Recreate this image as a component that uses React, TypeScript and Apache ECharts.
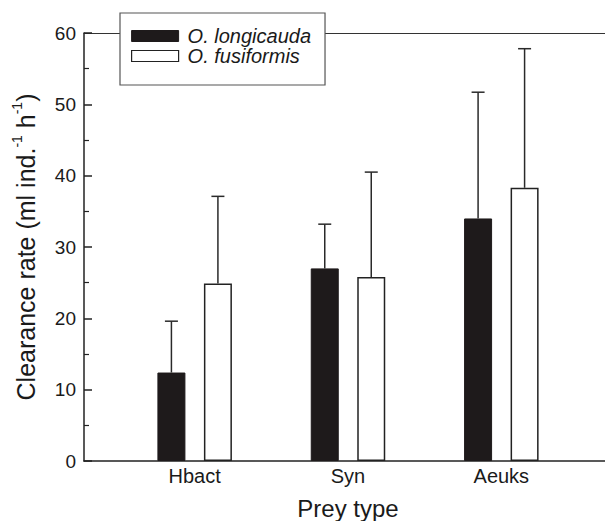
import React, { useEffect, useRef } from "react";
import * as echarts from "echarts";

const categories = ["Hbact", "Syn", "Aeuks"];
const seriesNames = ["O. longicauda", "O. fusiformis"];
const longicaudaMean = [12.4, 27.0, 34.0];
const longicaudaUpper = [19.6, 33.2, 51.7];
const fusiformisMean = [24.9, 25.8, 38.3];
const fusiformisUpper = [37.1, 40.5, 57.8];
const yTicks = { min: 0, max: 60, interval: 10 };

const FONT = "'Liberation Sans', Arial, Helvetica, sans-serif";
const BAR_W = 28;
const BAR_GAP = 18.5;

export default function App() {
  const ref = useRef<HTMLDivElement>(null);
  useEffect(() => {
    if (!ref.current) return;
    const chart = echarts.init(ref.current, null, { renderer: "svg" });
    const errSeries = (means: number[], uppers: number[], offset: number, name: string) => ({
      type: "custom",
      name: name + " err",
      xAxisIndex: 1,
      yAxisIndex: 1,
      z: 5,
      silent: true,
      data: means.map((m, i) => [i, uppers[i], m]),
      renderItem: (params: any, api: any) => {
        const idx = api.value(0);
        const hi = api.value(1);
        const mean = api.value(2);
        const base = api.coord([idx, mean]);
        const top = api.coord([idx, hi]);
        const x = base[0] + offset;
        const st = { stroke: "#2a2a2a", lineWidth: 1.5 };
        return {
          type: "group",
          children: [
            { type: "line", shape: { x1: x, y1: base[1], x2: x, y2: top[1] }, style: st },
            { type: "line", shape: { x1: x - 6.5, y1: top[1], x2: x + 6.5, y2: top[1] }, style: st },
          ],
        };
      },
    });
    const half = (BAR_W + BAR_GAP) / 2;
    chart.setOption({
      animation: false,
      backgroundColor: "#ffffff",
      textStyle: { fontFamily: FONT },
      grid: [
        { left: 84, right: -10, top: 33, bottom: 60, outerBoundsMode: "none", containLabel: false },
        { left: 118, right: 27, top: 33, bottom: 60, outerBoundsMode: "none", containLabel: false },
      ],
      legend: {
        left: 120,
        top: 13,
        orient: "vertical",
        z: 20,
        backgroundColor: "#ffffff",
        borderColor: "#555",
        borderWidth: 1.2,
        padding: [13, 14, 19, 11],
        itemWidth: 47,
        itemHeight: 11,
        itemGap: 0,
        textStyle: {
          fontFamily: FONT,
          fontSize: 20,
          fontStyle: "italic",
          color: "#1a1a1a",
          lineHeight: 20,
          padding: [0, 0, 0, 4],
        },
        data: [
          { name: seriesNames[0], icon: "rect", itemStyle: { color: "#1e1a1b", borderColor: "#1e1a1b", borderWidth: 1 } },
          { name: seriesNames[1], icon: "rect", itemStyle: { color: "#ffffff", borderColor: "#222", borderWidth: 1.2 } },
        ],
      },
      xAxis: [
        {
          gridIndex: 0,
          type: "value",
          min: 0,
          max: 1,
          axisLine: { show: true, lineStyle: { color: "#222", width: 1.5 } },
          axisTick: { show: false },
          axisLabel: { show: false },
          splitLine: { show: false },
        },
        {
          gridIndex: 1,
          type: "category",
          data: categories,
          axisLine: { show: false },
          axisTick: { show: false },
          axisLabel: { fontSize: 20, color: "#1a1a1a", margin: 5, fontFamily: FONT },
          name: "Prey type",
          nameLocation: "middle",
          nameGap: 35,
          nameTextStyle: { fontSize: 24, color: "#1a1a1a", fontFamily: FONT },
        },
        {
          gridIndex: 0,
          type: "value",
          position: "top",
          min: 0,
          max: 1,
          axisLine: { show: true, lineStyle: { color: "#333", width: 1.2 } },
          axisTick: { show: false },
          axisLabel: { show: false },
          splitLine: { show: false },
        },
      ],
      yAxis: [
        {
          gridIndex: 0,
          type: "value",
          min: yTicks.min,
          max: yTicks.max,
          interval: yTicks.interval,
          axisLine: { show: true, lineStyle: { color: "#222", width: 1.5 } },
          axisTick: { show: true, inside: true, length: 8, lineStyle: { color: "#222", width: 1.5 } },
          minorTick: { show: true, splitNumber: 2, length: 5, lineStyle: { color: "#222", width: 1.2 } },
          axisLabel: { fontSize: 19, color: "#1a1a1a", margin: 8, fontFamily: FONT },
          splitLine: { show: false },
          name: "{a|Clearance rate (ml ind.}{s|-1}{a| h}{s|-1}{a|)}",
          nameLocation: "middle",
          nameGap: 46,
          nameTextStyle: {
            fontFamily: FONT,
            color: "#1a1a1a",
            rich: {
              a: { fontSize: 25, lineHeight: 28, fontFamily: FONT, color: "#1a1a1a", verticalAlign: "bottom" },
              s: { fontSize: 14, lineHeight: 28, fontFamily: FONT, color: "#1a1a1a", verticalAlign: "top", padding: [0, 0, 12, 0] },
            },
          },
        },
        {
          gridIndex: 1,
          type: "value",
          min: yTicks.min,
          max: yTicks.max,
          interval: yTicks.interval,
          show: false,
        },
      ],
      series: [
        {
          type: "bar",
          name: seriesNames[0],
          xAxisIndex: 1,
          yAxisIndex: 1,
          barWidth: BAR_W,
          barGap: (BAR_GAP / BAR_W) * 100 + "%",
          data: longicaudaMean,
          itemStyle: { color: "#1e1a1b", borderColor: "#1e1a1b", borderWidth: 1 },
        },
        {
          type: "bar",
          name: seriesNames[1],
          xAxisIndex: 1,
          yAxisIndex: 1,
          barWidth: BAR_W,
          data: fusiformisMean,
          itemStyle: { color: "#ffffff", borderColor: "#222", borderWidth: 1.5 },
        },
        errSeries(longicaudaMean, longicaudaUpper, -half, seriesNames[0]),
        errSeries(fusiformisMean, fusiformisUpper, half, seriesNames[1]),
      ],
    });
    return () => chart.dispose();
  }, []);
  return (
    <div
      ref={ref}
      style={{ position: "absolute", left: 0, top: 0, width: 605, height: 521 }}
    />
  );
}
